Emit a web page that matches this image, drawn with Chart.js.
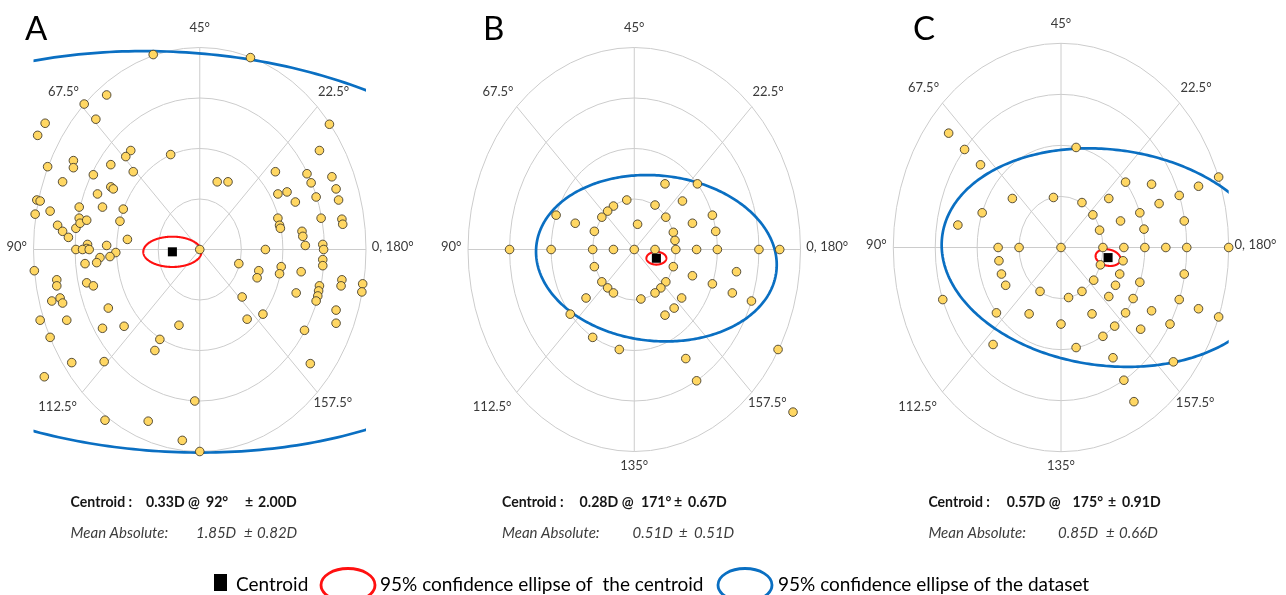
<!DOCTYPE html>
<html>
<head>
<meta charset="utf-8">
<script src="https://cdn.jsdelivr.net/npm/chart.js@4.4.1/dist/chart.umd.min.js"></script>
<style>
  html, body { margin: 0; padding: 0; background: #ffffff; }
  #wrap { position: relative; width: 1286px; height: 595px; overflow: hidden; background: #ffffff; }
  #wrap canvas { position: absolute; top: 0; }
</style>
</head>
<body>
<div id="wrap">
  <canvas id="panelA" width="430" height="480" style="left:0px;width:430px;height:480px"></canvas>
  <canvas id="panelB" width="430" height="480" style="left:430px;width:430px;height:480px"></canvas>
  <canvas id="panelC" width="426" height="480" style="left:860px;width:426px;height:480px"></canvas>
  <canvas id="notes" width="1286" height="595" style="left:0px;top:0px;width:1286px;height:595px;pointer-events:none"></canvas>
</div>
<script>
// Double-angle astigmatism vectors, in dioptres (x = C·cos2θ, y = C·sin2θ)
const xA = [-0.56, 0.61, -1.39, -1.12, -1.25, -1.86, -1.95, 1.56, 1.44, -0.35, -0.83, -0.89, -1.83, -1.52, -1.52, -1.07, -0.80, -1.65, -1.28, -1.07,
            -1.04, -1.23, -1.96, -1.92, -1.98, -1.80, -1.45, -1.17, -0.92, -0.96, -1.71, -1.65, -1.58, -1.49, -1.45, -1.44, -1.36, -0.87, 0.21, 0.34,
            0.91, 1.29, 1.59, 1.34, 1.64, 0.94, 1.05, 1.15, 1.40, 1.67, 1.46, 0.94, 0.96, 0.97, 1.23, 1.24, 1.71, 1.72, -1.35, -1.36,
            -1.49, -1.41, -1.33, -1.12, -1.01, -1.08, -1.20, -1.24, -1.38, -1.99, -1.72, -1.72, -1.36, -1.28, -1.78, -1.68, -1.65, -1.10, -1.92, -1.60,
            -1.17, -0.91, -0.25, -0.48, -0.54, -1.80, -1.54, -1.15, -1.87, -0.06, -1.14, -0.62, -0.21, 0.00, 0.00, 0.79, 0.47, 0.71, 0.69, 1.27,
            1.48, 1.49, 1.48, 1.48, 0.98, 0.96, 1.22, 1.71, 1.70, 1.96, 1.95, 1.44, 1.43, 1.42, 1.40, 1.16, 0.51, 0.76, 0.57, 1.64,
            1.64, 1.26, 1.33];
const yA = [1.93, 1.90, 1.44, 1.53, 1.29, 1.25, 1.13, 1.24, 0.98, 0.94, 0.98, 0.92, 0.82, 0.88, 0.81, 0.84, 0.77, 0.67, 0.74, 0.62,
            0.60, 0.55, 0.49, 0.48, 0.35, 0.38, 0.42, 0.42, 0.40, 0.28, 0.24, 0.18, 0.12, 0.21, 0.31, 0.26, 0.29, 0.10, 0.67, 0.67,
            0.77, 0.75, 0.72, 0.66, 0.60, 0.55, 0.57, 0.47, 0.52, 0.49, 0.31, 0.31, 0.24, 0.21, 0.18, 0.13, 0.30, 0.25, 0.05, 0.01,
            0.00, 0.00, 0.00, 0.04, -0.03, -0.07, -0.08, -0.13, -0.14, -0.21, -0.30, -0.36, -0.33, -0.36, -0.51, -0.48, -0.53, -0.58, -0.70, -0.70,
            -0.78, -0.76, -0.75, -0.89, -1.00, -0.87, -1.12, -1.11, -1.26, -1.50, -1.69, -1.70, -1.89, -2.00, 0.00, 0.00, -0.14, -0.21, -0.28, 0.04,
            0.05, 0.00, -0.10, -0.16, -0.17, -0.24, -0.22, -0.30, -0.36, -0.34, -0.42, -0.36, -0.41, -0.46, -0.51, -0.43, -0.47, -0.64, -0.69, -0.60,
            -0.73, -0.80, -1.13];

const xB = [0.37, 0.76, -0.09, 0.25, 0.58, -0.25, -0.32, -0.94, -0.39, 0.38, 0.94, -0.71, 0.04, 0.70, -0.48, 0.47, 0.98, 0.49,
            -1.50, -1.00, -0.50, -0.25, 0.00, 0.25, 0.50, 0.75, 1.00, 1.50, 1.75,
            -0.48, 0.47, 0.70, 1.23, 0.38, -0.39, -0.32, -0.25, 0.32, 0.25, 0.08, 0.94, 1.18, 1.41, -0.58, 0.57, 0.48, 0.37, -0.77, -0.50,
            -0.18, 1.73, 0.62, 0.75, 1.91];
const yB = [0.65, 0.65, 0.49, 0.44, 0.48, 0.43, 0.38, 0.34, 0.32, 0.32, 0.34, 0.26, 0.25, 0.26, 0.18, 0.17, 0.18, 0.09,
            0.00, 0.00, 0.00, 0.00, 0.00, 0.00, 0.00, 0.00, 0.00, 0.00, 0.00,
            -0.17, -0.17, -0.26, -0.22, -0.32, -0.32, -0.38, -0.43, -0.38, -0.43, -0.49, -0.34, -0.43, -0.51, -0.48, -0.48, -0.58, -0.65, -0.64, -0.87,
            -0.99, -0.99, -1.08, -1.30, -1.61];

const xC = [-1.34, -1.15, -0.96, 0.18, 1.88, 1.64, 1.41, 1.08, 0.77, -0.58, -0.09, 0.25, 0.57, 1.17, -0.94, 0.38, 0.94, 1.47, -1.23, 0.71,
            0.46, 0.99, -0.75, -0.50, 0.00, 0.50, 0.75, 1.00, 1.25, 1.50, 2.00,
            0.74, -0.74, -0.71, -0.66, 0.47, 0.70, 1.47, 0.39, 0.65, 0.94, -0.25, 0.25, 0.09, 0.57, 0.86, 1.41, -1.41, -0.77, -0.38, 0.37,
            0.77, 1.08, 1.64, 1.88, 0.00, 0.64, 0.95, 1.30, 0.50, -0.81, 0.18, 0.62, 1.34, 0.75, 0.87];
const yC = [1.12, 0.96, 0.81, 0.98, 0.69, 0.60, 0.51, 0.62, 0.64, 0.48, 0.49, 0.44, 0.48, 0.43, 0.34, 0.32, 0.34, 0.26, 0.22, 0.26,
            0.17, 0.18, 0.00, 0.00, 0.00, 0.00, 0.00, 0.00, 0.00, 0.00, 0.00,
            -0.13, -0.13, -0.26, -0.37, -0.17, -0.26, -0.26, -0.32, -0.37, -0.34, -0.43, -0.43, -0.49, -0.48, -0.50, -0.51, -0.51, -0.64, -0.65, -0.65,
            -0.64, -0.62, -0.60, -0.68, -0.75, -0.77, -0.80, -0.75, -0.87, -0.95, -0.98, -1.08, -1.12, -1.30, -1.51];

// Summary statistics per group (A, B, C)
const panelNames = ['A', 'B', 'C'];
const centroidMag = [0.33, 0.28, 0.57];   // D
const centroidAxis = [92, 171, 175];      // degrees
const centroidSD = [2.00, 0.67, 0.91];    // D
const meanAbs = [1.85, 0.51, 0.85];       // D
const meanAbsSD = [0.82, 0.51, 0.66];     // D

// 95% confidence ellipses: [semi-major D, semi-minor D, tilt deg]
const datasetEllipse = [[4.40, 1.98, -2.5], [1.45, 0.82, -3.8], [1.99, 1.06, -5.0]];
const centroidEllipse = [[0.35, 0.15, 0], [0.12, 0.063, 0], [0.15, 0.08, -8]];

// Polar grid
const ringValues = [0.5, 1.0, 1.5, 2.0];
const spokeAxes = [0, 22.5, 45, 67.5];
const axisLabels = ['45°', '67.5°', '22.5°', '90°', '0, 180°', '112.5°', '157.5°', '135°'];

// where each axis label sits, in plot units, with its alignment
const labelSpots = {
  '45°': [0, 2.19, 'center'],
  '67.5°': [-1.64, 1.56, 'center'],
  '22.5°': [1.61, 1.56, 'center'],
  '90°': [-2.08, 0.03, 'right'],
  '0, 180°': [2.07, 0.03, 'left'],
  '112.5°': [-1.71, -1.56, 'center'],
  '157.5°': [1.60, -1.52, 'center'],
  '135°': [0, -2.14, 'center']
};

const toVector = (mag, axis) => {
  const t = 2 * axis * Math.PI / 180;
  return { x: mag * Math.cos(t), y: mag * Math.sin(t) };
};

function traceEllipse(ctx, xs, ys, centre, spec) {
  const [a, b, tilt] = spec;
  const phi = tilt * Math.PI / 180;
  ctx.beginPath();
  for (let k = 0; k <= 360; k++) {
    const t = k * Math.PI / 180;
    const ex = a * Math.cos(t), ey = b * Math.sin(t);
    const px = xs.getPixelForValue(centre.x + ex * Math.cos(phi) - ey * Math.sin(phi));
    const py = ys.getPixelForValue(centre.y + ex * Math.sin(phi) + ey * Math.cos(phi));
    if (k === 0) ctx.moveTo(px, py); else ctx.lineTo(px, py);
  }
  ctx.closePath();
}

function framePlugin(cfg) {
  return {
    id: 'polarFrame' + cfg.name,
    beforeDatasetsDraw(chart) {
      const { ctx, chartArea } = chart;
      const xs = chart.scales.x, ys = chart.scales.y;
      const cx = xs.getPixelForValue(0), cy = ys.getPixelForValue(0);
      ctx.save();
      ctx.strokeStyle = '#cccccc';
      ctx.lineWidth = 1;
      ringValues.forEach(r => {
        const rx = xs.getPixelForValue(r) - cx;
        const ry = cy - ys.getPixelForValue(r);
        ctx.beginPath();
        ctx.ellipse(cx, cy, rx, ry, 0, 0, Math.PI * 2);
        ctx.stroke();
      });
      const R = ringValues[ringValues.length - 1];
      spokeAxes.forEach(a => {
        const t = 2 * a * Math.PI / 180;
        const dx = R * Math.cos(t), dy = R * Math.sin(t);
        ctx.beginPath();
        ctx.moveTo(xs.getPixelForValue(-dx), ys.getPixelForValue(-dy));
        ctx.lineTo(xs.getPixelForValue(dx), ys.getPixelForValue(dy));
        ctx.stroke();
      });
      // confidence ellipses, kept inside the plot width
      ctx.beginPath();
      ctx.rect(chartArea.left, chartArea.top - 14, chartArea.right - chartArea.left, chartArea.bottom - chartArea.top + 28);
      ctx.clip();
      ctx.lineJoin = 'round';
      traceEllipse(ctx, xs, ys, cfg.centre, cfg.dataEllipse);
      ctx.strokeStyle = '#0a6fc2';
      ctx.lineWidth = 2.7;
      ctx.stroke();
      traceEllipse(ctx, xs, ys, cfg.centre, cfg.centreEllipse);
      ctx.strokeStyle = '#ff1010';
      ctx.lineWidth = 2.1;
      ctx.stroke();
      ctx.restore();
    },
    afterDraw(chart) {
      const { ctx } = chart;
      const xs = chart.scales.x, ys = chart.scales.y;
      ctx.save();
      ctx.font = '13px Lato, "Open Sans", sans-serif';
      ctx.fillStyle = '#3a3a3a';
      ctx.textBaseline = 'middle';
      cfg.labels.forEach(lbl => {
        const [lx, ly, align] = labelSpots[lbl];
        ctx.textAlign = align;
        ctx.fillText(lbl, xs.getPixelForValue(lx), ys.getPixelForValue(ly));
      });
      ctx.font = '33px Lato, "Open Sans", sans-serif';
      ctx.fillStyle = '#000000';
      ctx.textAlign = 'left';
      ctx.textBaseline = 'alphabetic';
      ctx.fillText(cfg.name, cfg.letterX, 40);
      ctx.restore();
    }
  };
}

const layouts = [
  { pad: { left: 33.5, right: 64, top: 47.5, bottom: 28.5 }, letterX: 25 },
  { pad: { left: 38, right: 59.5, top: 47.5, bottom: 28.5 }, letterX: 53 },
  { pad: { left: 33.3, right: 57.3, top: 43.3, bottom: 28.3 }, letterX: 53 }
];
const xsAll = [xA, xB, xC];
const ysAll = [yA, yB, yC];

panelNames.forEach((name, i) => {
  const centre = toVector(centroidMag[i], centroidAxis[i]);
  const pts = xsAll[i].map((x, k) => ({ x, y: ysAll[i][k] }));
  const labels = name === 'A' ? axisLabels.filter(l => l !== '135°') : axisLabels;
  new Chart(document.getElementById('panel' + name), {
    type: 'scatter',
    data: {
      datasets: [
        {
          label: 'Centroid',
          data: [centre],
          pointStyle: 'rect',
          pointRadius: 6.4,
          backgroundColor: '#000000',
          borderColor: '#000000',
          borderWidth: 0,
          clip: false
        },
        {
          label: 'Eyes',
          data: pts,
          pointRadius: 4.3,
          backgroundColor: '#ffd763',
          borderColor: '#463e2c',
          borderWidth: 0.9,
          clip: false
        }
      ]
    },
    options: {
      responsive: false,
      animation: false,
      events: [],
      layout: { padding: layouts[i].pad },
      scales: {
        x: { type: 'linear', min: -2, max: 2, display: false },
        y: { type: 'linear', min: -2, max: 2, display: false }
      },
      plugins: { legend: { display: false }, tooltip: { enabled: false } }
    },
    plugins: [framePlugin({
      name,
      centre,
      dataEllipse: datasetEllipse[i],
      centreEllipse: centroidEllipse[i],
      labels,
      letterX: layouts[i].letterX
    })]
  });
});

// Summary lines under each panel and the shared legend
const notes = document.getElementById('notes').getContext('2d');

// bold summary text is drawn slightly condensed
function condensed(ctx, text, x, y, squeeze) {
  ctx.save();
  ctx.translate(x, y);
  ctx.scale(squeeze, 1);
  ctx.fillText(text, 0, 0);
  ctx.restore();
}

const statRows = [
  { c: [70.6, 146, 206, 245, 258], m: [70.6, 196, 244, 257] },
  { c: [502, 579.6, 641, 674, 688], m: [502, 632.6, 679, 694] },
  { c: [928.4, 1006.7, 1072.6, 1108, 1122], m: [928.4, 1058, 1106, 1119] }
];
statRows.forEach((row, i) => {
  notes.fillStyle = '#161616';
  notes.font = 'bold 15px Lato, "Open Sans", sans-serif';
  const cTexts = ['Centroid :', centroidMag[i].toFixed(2) + 'D @', centroidAxis[i] + '°', '±', centroidSD[i].toFixed(2) + 'D'];
  cTexts.forEach((t, k) => condensed(notes, t, row.c[k], 507, 0.94));
  notes.fillStyle = '#3c3c3c';
  notes.font = 'italic 15px Lato, "Open Sans", sans-serif';
  const mTexts = ['Mean Absolute:', meanAbs[i].toFixed(2) + 'D', '±', meanAbsSD[i].toFixed(2) + 'D'];
  mTexts.forEach((t, k) => notes.fillText(t, row.m[k], 538));
});

notes.fillStyle = '#000000';
notes.fillRect(214, 574, 13, 17);
notes.font = '19px Lato, "Open Sans", sans-serif';
notes.fillText('Centroid', 236, 591);
notes.fillText('95% confidence ellipse of  the centroid', 380, 591);
notes.fillText('95% confidence ellipse of the dataset', 778, 591);
notes.lineWidth = 2.8;
notes.strokeStyle = '#ff1010';
notes.beginPath();
notes.ellipse(348, 585, 27, 16.5, 0, 0, Math.PI * 2);
notes.stroke();
notes.strokeStyle = '#0a6fc2';
notes.beginPath();
notes.ellipse(745, 585, 27, 16.5, 0, 0, Math.PI * 2);
notes.stroke();
</script>
</body>
</html>
